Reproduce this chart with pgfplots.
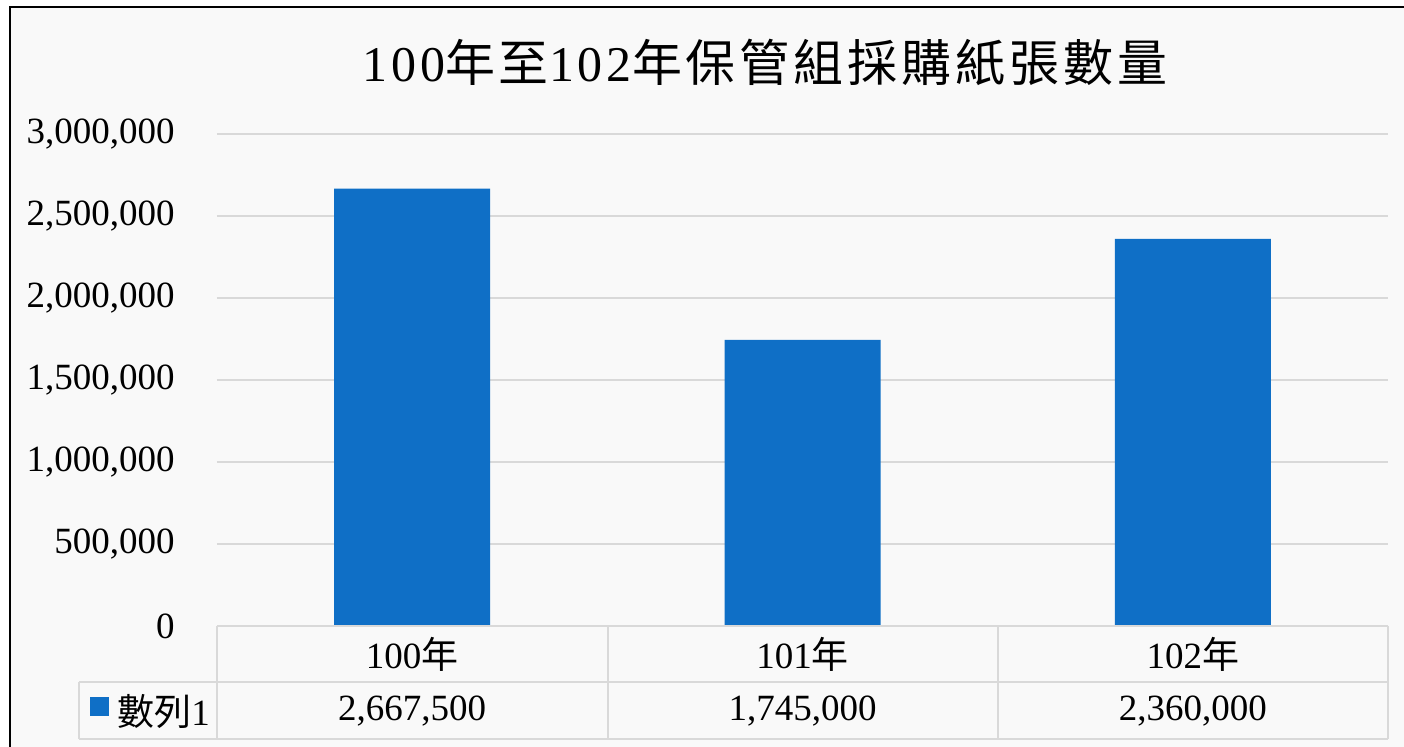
\documentclass[border=0pt]{standalone}
\usepackage{fontspec}
\setmainfont{Liberation Serif}
\newfontfamily\cjk{Noto Sans CJK TC}
\newfontfamily\titlecjk[LetterSpace=8]{Noto Sans CJK TC}
\newfontfamily\titlerm[LetterSpace=8]{Liberation Serif}
\usepackage{pgfplots}
\pgfplotsset{compat=1.18}
\definecolor{barblue}{RGB}{15,111,198}
\definecolor{gridgray}{RGB}{217,217,217}
\definecolor{bggray}{RGB}{249,249,249}
\newcommand{\cj}[1]{{\cjk #1}}
\begin{document}
\begin{tikzpicture}
\useasboundingbox (0,0) rectangle (702pt,-373.5pt);
\fill[bggray] (5pt,-3.5pt) rectangle (702pt,-373.5pt);
\draw[black, line width=1.2pt] (5pt,-373.5pt) -- (5pt,-3.5pt) -- (702pt,-3.5pt);
\node at (382.5pt,-31pt) {\fontsize{25}{28}\selectfont\titlerm 100{\titlecjk 年至}102{\titlecjk 年保管組採購紙張數量}};
\begin{axis}[
  at={(108.5pt,-313pt)}, anchor=south west,
  scale only axis, width=585.5pt, height=246pt,
  xmin=-0.5, xmax=2.5, ymin=0, ymax=3000000,
  ytick={0,500000,1000000,1500000,2000000,2500000,3000000},
  xtick={0,1,2},
  xticklabels={100\cj{年},101\cj{年},102\cj{年}},
  axis line style={draw=none},
  major tick style={draw=none},
  ymajorgrids,
  grid style={gridgray, line width=1pt},
  scaled y ticks=false,
  /pgf/number format/fixed,
  /pgf/number format/1000 sep={,},
  /pgf/number format/assume math mode=true,
  tick label style={font=\fontsize{18.5}{20}\selectfont},
  yticklabel style={anchor=east, inner sep=0pt, xshift=-21pt},
  xticklabel style={anchor=center, inner sep=0pt, yshift=-14pt},
  clip=false,
]
\addplot[ybar, bar width=78pt, fill=barblue, draw=none] coordinates {(0,2667500) (1,1745000) (2,2360000)};
\node[font=\fontsize{18.5}{20}\selectfont] at (axis cs:0,0) [yshift=-42.5pt] {2,667,500};
\node[font=\fontsize{18.5}{20}\selectfont] at (axis cs:1,0) [yshift=-42.5pt] {1,745,000};
\node[font=\fontsize{18.5}{20}\selectfont] at (axis cs:2,0) [yshift=-42.5pt] {2,360,000};
\end{axis}
\begin{scope}[gridgray, line width=1pt]
\draw (108.5pt,-313pt) -- (694pt,-313pt);
\draw (39.5pt,-341pt) -- (694pt,-341pt);
\draw (39.5pt,-369.5pt) -- (694pt,-369.5pt);
\draw (39.5pt,-341pt) -- (39.5pt,-369.5pt);
\draw (108.5pt,-313pt) -- (108.5pt,-369.5pt);
\draw (304pt,-313pt) -- (304pt,-369.5pt);
\draw (499pt,-313pt) -- (499pt,-369.5pt);
\draw (694pt,-313pt) -- (694pt,-369.5pt);
\end{scope}
\fill[barblue] (45pt,-348.5pt) rectangle (54.5pt,-358pt);
\node[anchor=west, inner sep=0pt, font=\fontsize{18.5}{20}\selectfont] at (58.5pt,-355.5pt) {\cj{數列}1};
\end{tikzpicture}
\end{document}
